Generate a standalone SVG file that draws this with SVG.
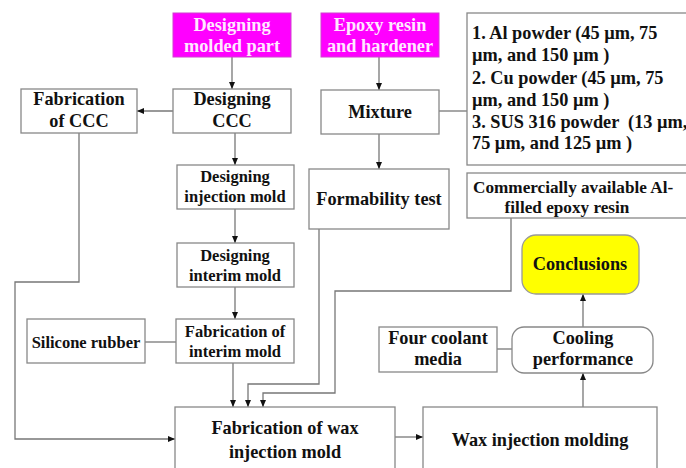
<svg xmlns="http://www.w3.org/2000/svg" width="686" height="468" viewBox="0 0 686 468">
<style>
.b{fill:#fff;stroke:#888;stroke-width:1.3}
.m{fill:#ff00ff;stroke:#d040d0;stroke-width:1}
.y{fill:#ffff00;stroke:#999;stroke-width:1.3}
text{font-family:"Liberation Serif","Times New Roman","DejaVu Serif",serif;font-weight:bold;font-size:18.3px;fill:#111;text-anchor:middle}
.w{fill:#ffe8ff}
.s{font-size:16.5px}
.t{font-size:17.2px}
.l{text-anchor:start}
.c path{fill:none;stroke:#777;stroke-width:1.3}
</style>
<defs>
<marker id="a" markerWidth="8" markerHeight="8" refX="7" refY="4" orient="auto" markerUnits="userSpaceOnUse">
<path d="M0,1 L7,4 L0,7 Z" fill="#111"/>
</marker>
</defs>
<rect width="686" height="468" fill="#fff"/>
<g class="c">
<path d="M232,57 V89" marker-end="url(#a)"/>
<path d="M173,111 H137" marker-end="url(#a)"/>
<path d="M379,57 V90" marker-end="url(#a)"/>
<path d="M439,111 H467"/>
<path d="M379,134 V169" marker-end="url(#a)"/>
<path d="M235,133 V165" marker-end="url(#a)"/>
<path d="M235,209 V243" marker-end="url(#a)"/>
<path d="M235,287 V319" marker-end="url(#a)"/>
<path d="M145,342 H176"/>
<path d="M233,363 V407" marker-end="url(#a)"/>
<path d="M319,229 V384 H248 V407" marker-end="url(#a)"/>
<path d="M511,218 V291 H335 V393 H263 V407" marker-end="url(#a)"/>
<path d="M79,133 V282 H15 V439 H175" marker-end="url(#a)"/>
<path d="M395,437 H423" marker-end="url(#a)"/>
<path d="M583,407 V373" marker-end="url(#a)"/>
<path d="M497,349 H512"/>
<path d="M583,327 V294" marker-end="url(#a)"/>
</g>
<g id="designing-molded-part"><rect class="m" x="173" y="13" width="118" height="44"/><text class="w" x="232" y="31">Designing</text><text class="w" x="232" y="52">molded part</text></g>
<g id="epoxy-resin"><rect class="m" x="321" y="13" width="118" height="44"/><text class="w" x="380" y="31">Epoxy resin</text><text class="w" x="380" y="52">and hardener</text></g>
<g id="powders"><rect class="b" x="467" y="13" width="230" height="152"/>
<text class="l" x="472" y="39">1. Al powder (45 µm, 75</text>
<text class="l" x="472" y="61">µm, and 150 µm )</text>
<text class="l" x="472" y="84">2. Cu powder (45 µm, 75</text>
<text class="l" x="472" y="106">µm, and 150 µm )</text>
<text class="l" x="472" y="128" xml:space="preserve">3. SUS 316 powder  (13 µm,</text>
<text class="l" x="472" y="149">75 µm, and 125 µm )</text></g>
<g id="fabrication-ccc"><rect class="b" x="21" y="89" width="116" height="44"/><text x="79" y="105">Fabrication</text><text x="79" y="127">of CCC</text></g>
<g id="designing-ccc"><rect class="b" x="173" y="89" width="118" height="44"/><text x="232" y="105">Designing</text><text x="232" y="127">CCC</text></g>
<g id="mixture"><rect class="b" x="321" y="90" width="118" height="44"/><text x="380" y="118">Mixture</text></g>
<g id="designing-injection-mold"><rect class="b" x="177" y="165" width="117" height="44"/><text class="s" x="235" y="182">Designing</text><text class="s" x="235" y="202">injection mold</text></g>
<g id="formability-test"><rect class="b" x="309" y="169" width="140" height="60"/><text x="379" y="205">Formability test</text></g>
<g id="commercial-resin"><rect class="b" x="467" y="173" width="230" height="45"/><text class="l t" x="473" y="193">Commercially available Al-</text><text class="t" x="567" y="213">filled epoxy resin</text></g>
<g id="designing-interim-mold"><rect class="b" x="177" y="243" width="117" height="44"/><text class="s" x="235" y="261">Designing</text><text class="s" x="235" y="281">interim mold</text></g>
<g id="conclusions"><rect class="y" x="522" y="235" width="117" height="59" rx="14"/><text x="580" y="270">Conclusions</text></g>
<g id="silicone-rubber"><rect class="b" x="27" y="319" width="118" height="44"/><text class="s" x="86" y="348">Silicone rubber</text></g>
<g id="fabrication-interim-mold"><rect class="b" x="176" y="319" width="118" height="44"/><text class="s" x="235" y="337">Fabrication of</text><text class="s" x="235" y="357">interim mold</text></g>
<g id="four-coolant-media"><rect class="b" x="379" y="327" width="118" height="45"/><text x="438" y="344">Four coolant</text><text x="438" y="365">media</text></g>
<g id="cooling-performance"><rect class="b" x="512" y="327" width="141" height="46" rx="12"/><text x="583" y="344">Cooling</text><text x="583" y="365">performance</text></g>
<g id="fabrication-wax-mold"><rect class="b" x="175" y="407" width="220" height="80"/><text x="285" y="434">Fabrication of wax</text><text x="285" y="458">injection mold</text></g>
<g id="wax-injection-molding"><rect class="b" x="423" y="407" width="234" height="80"/><text x="540" y="446">Wax injection molding</text></g>
</svg>
